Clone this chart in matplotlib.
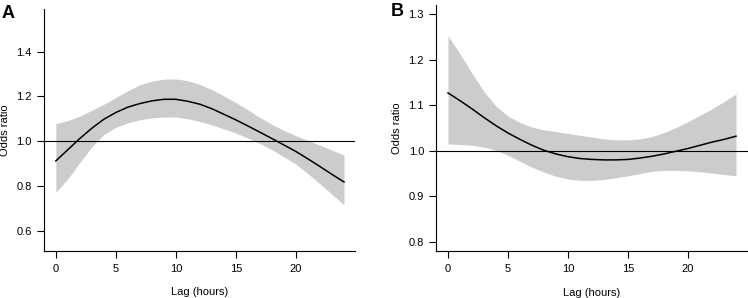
import matplotlib
matplotlib.use("Agg")
import matplotlib.pyplot as plt

plt.rcParams["font.family"] = ["Liberation Sans", "DejaVu Sans"]

# lag in hours at 1 h steps
lag = list(range(25))

a_or = [0.912, 0.962, 1.012, 1.058, 1.098, 1.128, 1.152, 1.168, 1.180, 1.187,
        1.187, 1.178, 1.165, 1.145, 1.120, 1.095, 1.068, 1.040, 1.012, 0.983,
        0.954, 0.921, 0.887, 0.852, 0.818]
a_hi = [1.078, 1.092, 1.112, 1.138, 1.165, 1.195, 1.225, 1.252, 1.268, 1.277,
        1.278, 1.270, 1.253, 1.230, 1.202, 1.172, 1.140, 1.106, 1.075, 1.048,
        1.025, 1.003, 0.982, 0.960, 0.938]
a_lo = [0.772, 0.832, 0.905, 0.975, 1.030, 1.062, 1.082, 1.096, 1.104, 1.108,
        1.108, 1.100, 1.088, 1.073, 1.055, 1.036, 1.014, 0.990, 0.962, 0.930,
        0.897, 0.855, 0.810, 0.763, 0.716]

b_or = [1.127, 1.110, 1.092, 1.073, 1.055, 1.039, 1.025, 1.012, 1.001, 0.993,
        0.987, 0.983, 0.981, 0.980, 0.980, 0.981, 0.984, 0.988, 0.993, 0.999,
        1.005, 1.012, 1.019, 1.025, 1.032]
b_hi = [1.252, 1.213, 1.170, 1.130, 1.098, 1.076, 1.062, 1.052, 1.046, 1.042,
        1.038, 1.034, 1.030, 1.026, 1.024, 1.024, 1.026, 1.031, 1.040, 1.051,
        1.064, 1.078, 1.092, 1.108, 1.125]
b_lo = [1.015, 1.014, 1.012, 1.008, 1.001, 0.990, 0.977, 0.964, 0.953, 0.944,
        0.938, 0.935, 0.935, 0.937, 0.941, 0.945, 0.950, 0.955, 0.957, 0.957,
        0.956, 0.954, 0.951, 0.948, 0.945]

a_yticks = [0.6, 0.8, 1.0, 1.2, 1.4]
b_yticks = [0.8, 0.9, 1.0, 1.1, 1.2, 1.3]
xticks = [0, 5, 10, 15, 20]

W, H = 748, 298
fig = plt.figure(figsize=(W / 100, H / 100), dpi=100)


def px_axes(left, top, right, bottom):
    return fig.add_axes([left / W, 1 - bottom / H, (right - left) / W, (bottom - top) / H])


def panel(ax, est, lo, hi, ylim, yticks, letter, lx, ly):
    ax.fill_between(lag, lo, hi, color="#cccccc", lw=0)
    ax.plot(lag, est, color="black", lw=1.1)
    ax.axhline(1.0, color="black", lw=0.8)
    ax.set_xlim(-0.96, 24.96)
    ax.set_ylim(*ylim)
    ax.set_xticks(xticks)
    ax.set_yticks(yticks)
    ax.set_yticklabels([f"{v:.1f}" for v in yticks])
    for s in ("top", "right"):
        ax.spines[s].set_visible(False)
    for s in ("left", "bottom"):
        ax.spines[s].set_linewidth(0.8)
    ax.tick_params(length=5, width=0.8, labelsize=8, pad=4)
    ax.set_xlabel("Lag (hours)", fontsize=8)
    ax.set_ylabel("Odds ratio", fontsize=8)
    ax.xaxis.set_label_coords(0.5, -0.15)
    ax.yaxis.set_label_coords(-0.11, 0.5)
    fig.text(lx / W, 1 - ly / H, letter, fontsize=13, fontweight="bold",
             ha="left", va="top")


ax_a = px_axes(44.3, 9, 355.5, 251)
panel(ax_a, a_or, a_lo, a_hi, (0.51, 1.59), a_yticks, "A", 1.5, 5)

ax_b = px_axes(436.5, 5, 747.5, 251)
panel(ax_b, b_or, b_lo, b_hi, (0.78, 1.32), b_yticks, "B", 390.5, 2.5)

fig.savefig("out.png", dpi=100)
